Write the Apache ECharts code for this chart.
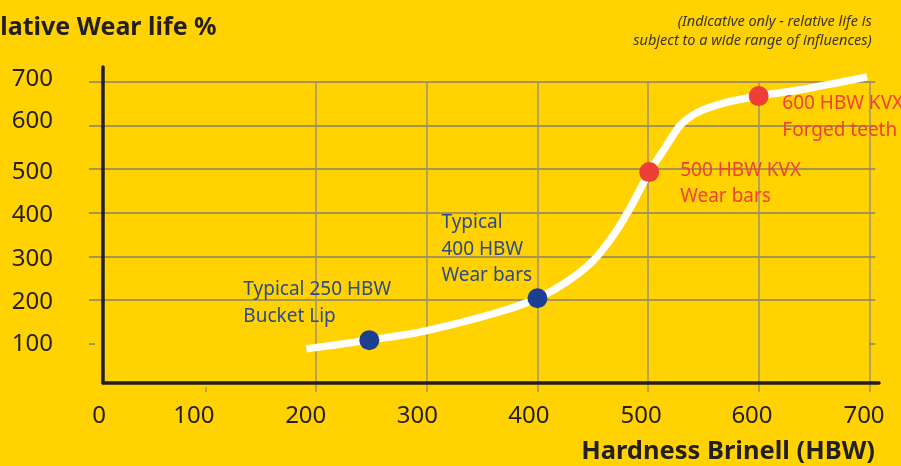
<!DOCTYPE html>
<html>
<head>
<meta charset="utf-8">
<script src="https://cdn.jsdelivr.net/npm/echarts@6/dist/echarts.min.js"></script>
<style>
html,body{margin:0;padding:0;background:#FFD200;}
#chart{width:901px;height:466px;}
</style>
</head>
<body>
<div id="chart"></div>
<script>
// ---- data ----
const xTicks = [0, 100, 200, 300, 400, 500, 600, 700];
const yTicks = [0, 100, 200, 300, 400, 500, 600, 700];
const curveX = [191, 248, 300, 366, 400, 425, 450, 470, 485, 501, 516, 529, 545, 570, 600, 643, 698];
const curveY = [88, 108, 130, 173, 204, 239, 289, 353, 416, 493, 551, 600, 630, 652, 667, 684, 711];
const blueX = [248, 400];
const blueY = [108, 204];
const blueLabels = ['Typical 250 HBW\nBucket Lip', 'Typical\n400 HBW\nWear bars'];
const redX = [501, 600];
const redY = [493, 667];
const redLabels = ['500 HBW KVX\nWear bars', '600 HBW KVX\nForged teeth'];
const titleText = 'Relative Wear life %';
const noteText = '(Indicative only - relative life is\nsubject to a wide range of influences)';
const xName = 'Hardness Brinell (HBW)';

// ---- style / layout (not data) ----
const xLabelShift = [4, -11.7, -10.5, -9.5, -8.5, -7, -6.7, -5.3];
const yLabelShift = [0, 1, 2, 3, 2.7, 3, -4, -3];
const blueLabelPos = [[-116, -53.6], [-86, -79]];
const redLabelPos = [[41, -5], [33.6, 4.3]];

const FONT = '"Noto Sans", "Open Sans", sans-serif';
const DARK = '#231f20';
const GRIDC_H = '#878170';
const GRIDC_V = '#9a9378';

const xRich = {};
xTicks.forEach((v, i) => {
  const d = xLabelShift[i];
  xRich['x' + v] = {fontSize: 24, fontFamily: FONT, color: DARK,
    padding: d < 0 ? [0, -2 * d, 0, 0] : [0, 0, 0, 2 * d]};
});
const yRich = {};
yTicks.forEach((v, i) => {
  const d = yLabelShift[i];
  yRich['y' + v] = {fontSize: 24, fontFamily: FONT, color: DARK,
    padding: d > 0 ? [2 * d, 0, 0, 0] : [0, 0, -2 * d, 0]};
});

const tickVals = yTicks.slice(1);
const xTickVals = xTicks.slice(1);

function markerData(xs, ys, labels, pos) {
  return xs.map((x, i) => ({
    value: [x, ys[i]],
    label: {show: true, formatter: labels[i], position: pos[i]}
  }));
}

const chart = echarts.init(document.getElementById('chart'), null, {renderer: 'canvas'});
chart.setOption({
  backgroundColor: '#FFD200',
  animation: false,
  grid: [
    {left: 95, right: 31.7, top: 81.7, bottom: 78.7},
    {left: 103, right: 22, top: 67, bottom: 83.3}
  ],
  xAxis: [
    {
      gridIndex: 0, type: 'value', min: 0, max: 700, interval: 100,
      axisLine: {show: false},
      axisTick: {show: true, length: 5, customValues: xTickVals, lineStyle: {color: GRIDC_V, width: 1.5}},
      splitLine: {show: true, showMinLine: false, lineStyle: {color: GRIDC_V, width: 1.5}},
      axisLabel: {margin: 17, formatter: v => '{x' + v + '|' + v + '}', rich: xRich}
    },
    {
      gridIndex: 1, type: 'value', min: 0, max: 1,
      axisLine: {show: true, onZero: false, lineStyle: {color: DARK, width: 3.5}},
      axisTick: {show: false}, axisLabel: {show: false}, splitLine: {show: false}
    }
  ],
  yAxis: [
    {
      gridIndex: 0, type: 'value', min: 0, max: 700, interval: 100,
      axisLine: {show: false},
      axisTick: {show: true, length: 6, customValues: tickVals, lineStyle: {color: GRIDC_H, width: 1.5}},
      splitLine: {show: true, showMinLine: false, lineStyle: {color: GRIDC_H, width: 1.5}},
      axisLabel: {margin: 42, showMinLabel: false, formatter: v => (v === 0 ? '' : '{y' + v + '|' + v + '}'), rich: yRich}
    },
    {
      gridIndex: 0, type: 'value', position: 'right', min: 0, max: 700, interval: 100,
      axisLine: {show: false},
      axisTick: {show: true, length: 6, customValues: tickVals, lineStyle: {color: GRIDC_H, width: 1.5}},
      splitLine: {show: false}, axisLabel: {show: false}
    },
    {
      gridIndex: 1, type: 'value', min: 0, max: 1,
      axisLine: {show: true, onZero: false, lineStyle: {color: DARK, width: 3.5}},
      axisTick: {show: false}, axisLabel: {show: false}, splitLine: {show: false}
    }
  ],
  graphic: [
    {type: 'text', x: -31, y: 28, z: 10, style: {text: titleText, font: 'bold 25px ' + FONT, fill: DARK, align: 'left', verticalAlign: 'middle'}},
    {type: 'text', x: 871.7, y: 12, z: 10, style: {text: noteText, font: 'italic 14.5px ' + FONT, fill: '#3a3530', align: 'right', verticalAlign: 'top', lineHeight: 19}},
    {type: 'text', x: 875, y: 451.5, z: 10, style: {text: xName, font: 'bold 25.5px ' + FONT, fill: DARK, align: 'right', verticalAlign: 'middle'}}
  ],
  series: [
    {
      type: 'line', xAxisIndex: 0, yAxisIndex: 0, clip: false, z: 3,
      data: curveX.map((x, i) => [x, curveY[i]]),
      smooth: 0.3, showSymbol: false, symbol: 'none',
      lineStyle: {color: '#ffffff', width: 7.5, cap: 'butt'}
    },
    {
      type: 'scatter', xAxisIndex: 0, yAxisIndex: 0, z: 5, symbolSize: 20,
      itemStyle: {color: '#1d3f92', opacity: 1},
      label: {show: true, align: 'left', verticalAlign: 'top', color: '#2a4a8c', fontSize: 19, fontFamily: FONT, lineHeight: 26.7},
      data: markerData(blueX, blueY, blueLabels, blueLabelPos)
    },
    {
      type: 'scatter', xAxisIndex: 0, yAxisIndex: 0, z: 5, symbolSize: 20,
      itemStyle: {color: '#ee3e38', opacity: 1},
      label: {show: true, align: 'left', verticalAlign: 'top', color: '#ee4237', fontSize: 19, fontFamily: FONT, lineHeight: 26.5},
      data: markerData(redX, redY, redLabels, redLabelPos)
    }
  ]
});
</script>
</body>
</html>
